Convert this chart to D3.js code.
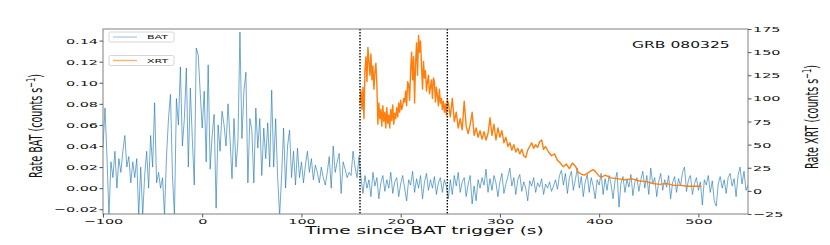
<!DOCTYPE html>
<html>
<head>
<meta charset="utf-8">
<script src="https://cdn.jsdelivr.net/npm/d3@7"></script>
<style>
  body { margin: 0; background: #fff; }
  text { font-family: "DejaVu Sans", sans-serif; }
</style>
</head>
<body>
<div class="contain"></div>
<script>
// BAT light curve, 2 s bins starting at -100 s
const batStart = -100;
const batStep = 2;
const batRate = [
  0.038, 0.076, 0.030, -0.026, 0.025, 0.010, 0.035, 0.000, 0.028, 0.015,
  0.035, 0.050, 0.020, 0.030, 0.005, 0.025, 0.010, 0.028, -0.026, 0.020,
  -0.026, 0.012, 0.035, 0.000, 0.050, 0.020, 0.081, 0.005, 0.015, 0.000,
  0.010, -0.026, 0.030, 0.066, 0.089, 0.012, -0.026, 0.085, 0.060, 0.115,
  0.040, 0.066, 0.114, 0.020, 0.095, 0.047, 0.003, 0.133, 0.126, 0.090,
  0.057, 0.092, 0.025, 0.117, 0.018, 0.050, 0.070, -0.019, 0.060, 0.035,
  0.073, 0.060, 0.040, 0.080, 0.047, 0.009, 0.066, 0.020, 0.045, 0.148,
  0.047, 0.092, 0.110, 0.005, 0.066, 0.055, 0.005, 0.076, 0.038, 0.066,
  0.012, 0.057, 0.028, 0.062, 0.020, 0.093, 0.020, 0.066, 0.010, -0.026,
  0.012, 0.057, 0.000, 0.040, 0.055, 0.010, 0.035, 0.003, 0.038, 0.010,
  0.025, 0.005, 0.022, 0.035, 0.015, 0.028, 0.008, 0.022, 0.015, 0.005,
  0.020, 0.010, 0.003, 0.015, 0.030, 0.000, 0.040, 0.015, 0.025, 0.033,
  -0.005, 0.025, 0.018, 0.010, 0.015, 0.012, 0.035, 0.020, 0.010, 0.030,
  0.010, -0.005, 0.012, 0.000, 0.008, -0.008, 0.015, 0.002, 0.010, -0.010,
  0.005, 0.012, -0.003, 0.008, 0.000, 0.015, -0.005, 0.006, 0.010, -0.008,
  0.004, 0.012, 0.000, -0.012, 0.008, 0.003, 0.016, -0.004, 0.009, 0.000,
  0.012, -0.010, 0.006, 0.014, -0.002, 0.008, 0.000, 0.011, -0.006, 0.005,
  0.010, -0.004, 0.008, 0.002, -0.010,
  0.008, -0.006, 0.012, 0.002, 0.015, -0.004, 0.006, 0.010, -0.008, 0.004,
  0.012, -0.015, 0.002, -0.012, 0.008, 0.000, 0.010, 0.003, 0.018, -0.004,
  0.009, -0.002, 0.012, 0.005, -0.008, 0.006, 0.014, -0.005, 0.004, 0.011,
  0.019, 0.002, 0.010, -0.006, 0.008, 0.013, -0.003, 0.006, 0.000, -0.012,
  0.007, 0.002, 0.010, -0.004, 0.005, 0.001, 0.009, -0.006, 0.004, 0.000,
  0.006, -0.003, 0.002, 0.008, -0.001, 0.012, 0.017, 0.003, 0.014, -0.005,
  0.010, 0.016, -0.002, 0.008, 0.019, 0.000, 0.011, -0.008, 0.006, 0.013,
  -0.004, 0.010, 0.002, -0.010, 0.008, 0.003, 0.014, -0.006, 0.009, -0.002,
  0.012, 0.004, -0.010, 0.007, 0.015, -0.018, 0.005, 0.011, -0.004, 0.008,
  0.001, 0.013, -0.007, 0.006, 0.010, -0.003, 0.008, 0.016, 0.000, 0.012,
  -0.006, 0.019, 0.004, 0.010, -0.008, 0.006, 0.014, -0.002, 0.008, 0.001,
  0.012, -0.010, 0.005, 0.011, -0.004, 0.009, 0.002, 0.015, 0.020, -0.003,
  0.008, 0.012, -0.006, 0.004, 0.010, -0.002, 0.006, -0.016, 0.008, 0.003,
  0.012, -0.004, 0.007, -0.012, -0.017, 0.004, 0.011, 0.000, 0.008, -0.005,
  0.010, 0.014, 0.002, 0.009, -0.008, 0.012, 0.020, 0.004, 0.016, -0.002,
  0.003
];

// XRT light curve (s, counts/s)
const xrtTime = [
  159, 160, 161, 162, 163, 164, 165, 166, 167, 168,
  169, 170, 171, 172, 173, 174, 175, 176, 177, 178,
  179, 180, 181, 182, 183, 184, 185, 186, 187, 188,
  189, 190, 191, 192, 193, 194, 195, 196, 197, 198,
  199, 200, 201, 202, 203, 204, 205, 206, 207, 208,
  209, 210, 211, 212, 213, 214, 215, 216, 217, 218,
  219, 220, 221, 222, 223, 224, 225, 226, 227, 228,
  229, 230, 231, 232, 233, 234, 235, 236, 237, 238,
  239, 240, 241, 242, 243, 244, 245, 246, 247,
  248, 250, 252, 254, 256, 258, 260, 262, 264, 266,
  268, 270, 272, 274, 276, 278, 280, 282, 284, 286,
  288, 290, 292, 294, 296, 298, 300, 302, 304, 306,
  308, 310, 312, 314, 316, 318, 320, 322, 324, 326,
  328, 330, 332, 334, 336, 338, 340, 342, 344, 346,
  349, 352, 355, 358, 361, 364, 367, 370, 373, 376,
  379, 382, 385, 388, 391, 394, 397, 400, 403, 406,
  412, 419, 426, 433, 440, 447, 454, 461, 468, 475,
  482, 489, 496, 503
];
const xrtRate = [
  95, 108, 88, 112, 78, 130, 145, 118, 155, 140,
  125, 148, 120, 135, 110, 128, 138, 115, 72, 95,
  78, 88, 70, 92, 75, 85, 68, 90, 73, 82,
  68, 88, 76, 93, 72, 84, 78, 90, 80, 95,
  85, 98, 88, 92, 100, 96, 108, 92, 118, 115,
  98, 130, 150, 120, 145, 95, 138, 160, 125, 168,
  150, 162, 135, 110, 140, 122, 130, 108, 118, 125,
  105, 112, 120, 100, 122, 118, 96, 112, 103, 92,
  110, 95, 100, 88, 97, 85, 94, 82, 98,
  95, 80, 100, 75, 85, 68, 78, 66, 97, 70,
  62, 72, 85, 60, 68, 58, 65, 56, 64, 55,
  62, 79, 60, 72, 55, 68, 58, 65, 52, 58,
  48, 52, 44, 50, 42, 46, 40, 45, 38, 36,
  44, 48, 52, 46, 50, 47, 53, 55, 45, 48,
  42, 38, 40, 33, 30, 26, 29, 24, 30, 27,
  20, 18, 17, 19, 21, 23, 20, 16, 15, 17,
  14, 13, 12, 13, 11, 10, 8, 7, 8, 6,
  6, 5, 5, 5
];

// dotted markers (s)
const markerTimes = [159, 247];

const xTicks = [-100, 0, 100, 200, 300, 400, 500];
const batTicks = [-0.02, 0, 0.02, 0.04, 0.06, 0.08, 0.10, 0.12, 0.14];
const xrtTicks = [-25, 0, 25, 50, 75, 100, 125, 150, 175];

const svg_width = 830;
const svg_height = 245;
const plot = { left: 103, right: 748, top: 29, bottom: 214 };
const SX = 1.85; // the picture is stretched sideways, so is its text

let svg = d3.select(".contain").append("svg")
  .attr("width", svg_width).attr("height", svg_height);

let xScale = d3.scaleLinear().domain([-100, 550]).range([plot.left, plot.right]);
let yBat = d3.scaleLinear().domain([-0.0245, 0.151]).range([plot.bottom, plot.top]);
let yXrt = d3.scaleLinear().domain([-25, 175]).range([plot.bottom, plot.top]);

svg.append("defs").append("clipPath").attr("id", "clip")
  .append("rect")
  .attr("x", plot.left).attr("y", plot.top)
  .attr("width", plot.right - plot.left).attr("height", plot.bottom - plot.top);

let g = svg.append("g").attr("clip-path", "url(#clip)");

// BAT line
let batData = batRate.map((v, i) => [batStart + i * batStep, v]);
g.append("path")
  .datum(batData)
  .attr("fill", "none")
  .attr("stroke", "#1f77b4")
  .attr("stroke-opacity", 0.8)
  .attr("stroke-width", 0.8)
  .attr("d", d3.line().x(d => xScale(d[0])).y(d => yBat(d[1])));

// XRT line
let xrtData = xrtTime.map((t, i) => [t, xrtRate[i]]);
g.append("path")
  .datum(xrtData)
  .attr("fill", "none")
  .attr("stroke", "#ff7f0e")
  .attr("stroke-width", 1.4)
  .attr("stroke-linejoin", "round")
  .attr("d", d3.line().x(d => xScale(d[0])).y(d => yXrt(d[1])));

// dotted vertical lines
g.selectAll("line.marker")
  .data(markerTimes).enter().append("line")
  .attr("class", "marker")
  .attr("x1", d => xScale(d)).attr("x2", d => xScale(d))
  .attr("y1", plot.top).attr("y2", plot.bottom)
  .attr("stroke", "#000")
  .attr("stroke-width", 1.4)
  .attr("stroke-dasharray", "1.5,1.5");

// frame
svg.append("rect")
  .attr("x", plot.left).attr("y", plot.top)
  .attr("width", plot.right - plot.left).attr("height", plot.bottom - plot.top)
  .attr("fill", "none").attr("stroke", "#808080").attr("stroke-width", 1);

function styleAxis(sel, fontSize) {
  sel.select(".domain").remove();
  sel.selectAll(".tick line").attr("stroke", "#555");
  sel.selectAll(".tick text")
    .attr("font-family", "DejaVu Sans")
    .attr("font-size", fontSize)
    .attr("fill", "#111");
}

// x axis
let xAxis = svg.append("g")
  .attr("transform", `translate(0, ${plot.bottom})`)
  .call(d3.axisBottom(xScale).tickValues(xTicks).tickSize(3.5).tickPadding(0.5));
styleAxis(xAxis, 7.8);
xAxis.selectAll(".tick text").attr("transform", `scale(${SX},1)`);

// left axis
let yAxisL = svg.append("g")
  .attr("transform", `translate(${plot.left}, 0)`)
  .call(d3.axisLeft(yBat).tickValues(batTicks).tickSize(3.5).tickFormat(d3.format(".2f")));
styleAxis(yAxisL, 7.8);
yAxisL.selectAll(".tick text")
  .attr("transform", `scale(${SX},1)`)
  .attr("x", -5 / SX);

// right axis
let yAxisR = svg.append("g")
  .attr("transform", `translate(${plot.right}, 0)`)
  .call(d3.axisRight(yXrt).tickValues(xrtTicks).tickSize(3.5).tickFormat(d3.format("d")));
styleAxis(yAxisR, 7.8);
yAxisR.selectAll(".tick text")
  .attr("transform", `scale(${SX},1)`)
  .attr("x", 5 / SX);

// labels
function label(x, y, size, anchor, rotate) {
  let t = svg.append("text")
    .attr("transform", `translate(${x},${y}) scale(${SX},1)` + (rotate ? " rotate(-90)" : ""))
    .attr("font-size", size)
    .attr("text-anchor", anchor)
    .attr("fill", "#111");
  return t;
}

label(424.5, 234, 10, "middle", false).text("Time since BAT trigger (s)");

function rateLabel(x, y, name) {
  let t = label(x, y, 9.6, "middle", true);
  t.append("tspan").text(`Rate ${name} (counts s`);
  t.append("tspan").attr("font-size", 6.7).attr("dy", -3.6).text("\u22121");
  t.append("tspan").attr("dy", 3.6).text(")");
}
rateLabel(42, 126, "BAT");
rateLabel(818, 117, "XRT");

label(632, 48.3, 8.4, "start", false).text("GRB 080325");

// legends, one box per series
const legendItems = [
  { name: "BAT", color: "#1f77b4", width: 0.8, y: 32 },
  { name: "XRT", color: "#ff7f0e", width: 1.4, y: 55.5 }
];
legendItems.forEach(item => {
  svg.append("rect")
    .attr("x", 109).attr("y", item.y)
    .attr("width", 65).attr("height", 10)
    .attr("rx", 1.5)
    .attr("fill", "#fff").attr("fill-opacity", 0.85)
    .attr("stroke", "#ccc").attr("stroke-width", 0.8);
  svg.append("line")
    .attr("x1", 113).attr("x2", 137)
    .attr("y1", item.y + 5).attr("y2", item.y + 5)
    .attr("stroke", item.color).attr("stroke-opacity", 0.6)
    .attr("stroke-width", item.width);
  label(147, item.y + 7.3, 6, "start", false).text(item.name);
});
</script>
</body>
</html>
